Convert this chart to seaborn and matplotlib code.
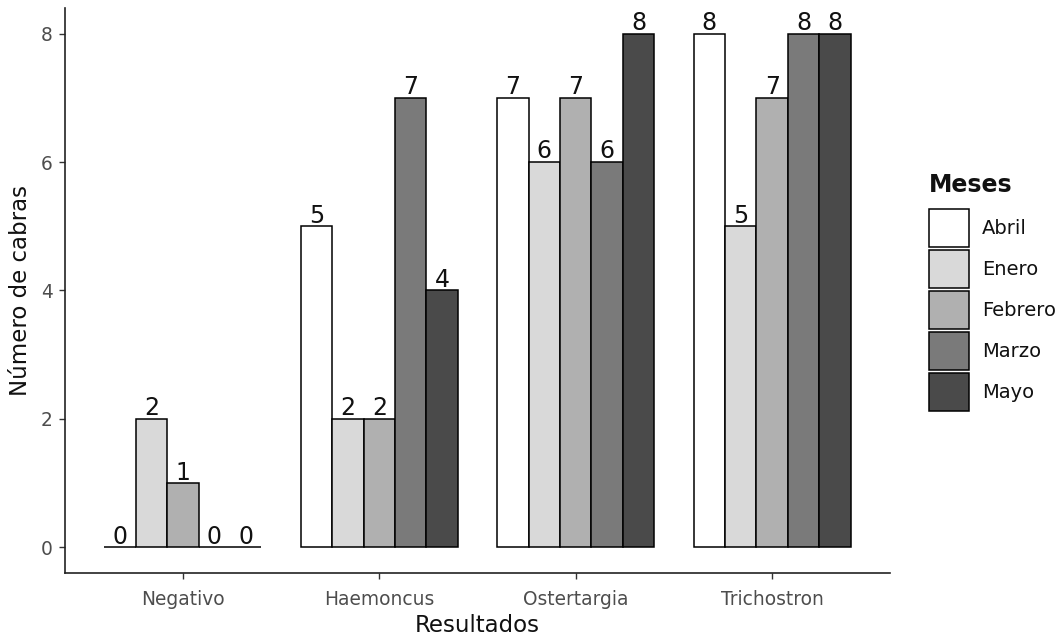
import matplotlib.pyplot as plt
import pandas as pd
import seaborn as sns

resultados = ['Negativo', 'Haemoncus', 'Ostertargia', 'Trichostron']
meses = ['Abril', 'Enero', 'Febrero', 'Marzo', 'Mayo']
abril = [0, 5, 7, 8]
enero = [2, 2, 6, 5]
febrero = [1, 2, 7, 7]
marzo = [0, 7, 6, 8]
mayo = [0, 4, 8, 8]
colores = ['#ffffff', '#d9d9d9', '#b0b0b0', '#7a7a7a', '#4a4a4a']

rows = []
for mes, vals in zip(meses, [abril, enero, febrero, marzo, mayo]):
    for r, v in zip(resultados, vals):
        rows.append({'Resultados': r, 'Meses': mes, 'n': v})
df = pd.DataFrame(rows)

sns.set_style('white')
plt.rcParams['font.family'] = ['DejaVu Sans']

fig = plt.figure(figsize=(10.6, 6.4), dpi=100)
ax = fig.add_axes([65 / 1060, 67 / 640, 825 / 1060, 565 / 640])

sns.barplot(data=df, x='Resultados', y='n', hue='Meses', order=resultados,
            hue_order=meses, palette=colores, edgecolor='black', linewidth=1.1,
            width=0.8, saturation=1, ax=ax)

for cont in ax.containers:
    ax.bar_label(cont, fontsize=17, padding=-1, color='#111111')

ax.set_xlim(-0.6, 3.6)
ax.set_ylim(-0.4, 8.4)
ax.set_yticks([0, 2, 4, 6, 8])
ax.set_xlabel('Resultados', fontsize=16.5, labelpad=4, color='#111111')
ax.set_ylabel('Número de cabras', fontsize=16.5, labelpad=6, color='#111111')
ax.tick_params(axis='both', labelsize=13.4, labelcolor='#4d4d4d', length=4,
               width=1.0, color='#333333', bottom=True, left=True, pad=5)
ax.tick_params(axis='x', pad=8)
sns.despine(ax=ax)
for s in ['left', 'bottom']:
    ax.spines[s].set_color('#222222')
    ax.spines[s].set_linewidth(1.2)

# legend title drawn apart so the gap to the keys matches
leg = ax.legend(loc='upper left', bbox_to_anchor=(929 / 1060, 1 - 209 / 640),
                bbox_transform=fig.transFigure, borderpad=0, borderaxespad=0,
                frameon=False, fontsize=14,
                handlelength=2.06, handleheight=2.63, labelspacing=0.15, handletextpad=0.67)
for t in leg.get_texts():
    t.set_color('#111111')
fig.text(929 / 1060, 1 - 185 / 640, 'Meses', fontsize=17, fontweight='bold',
         color='#111111', ha='left', va='center')

fig.savefig('out.png', dpi=100)
